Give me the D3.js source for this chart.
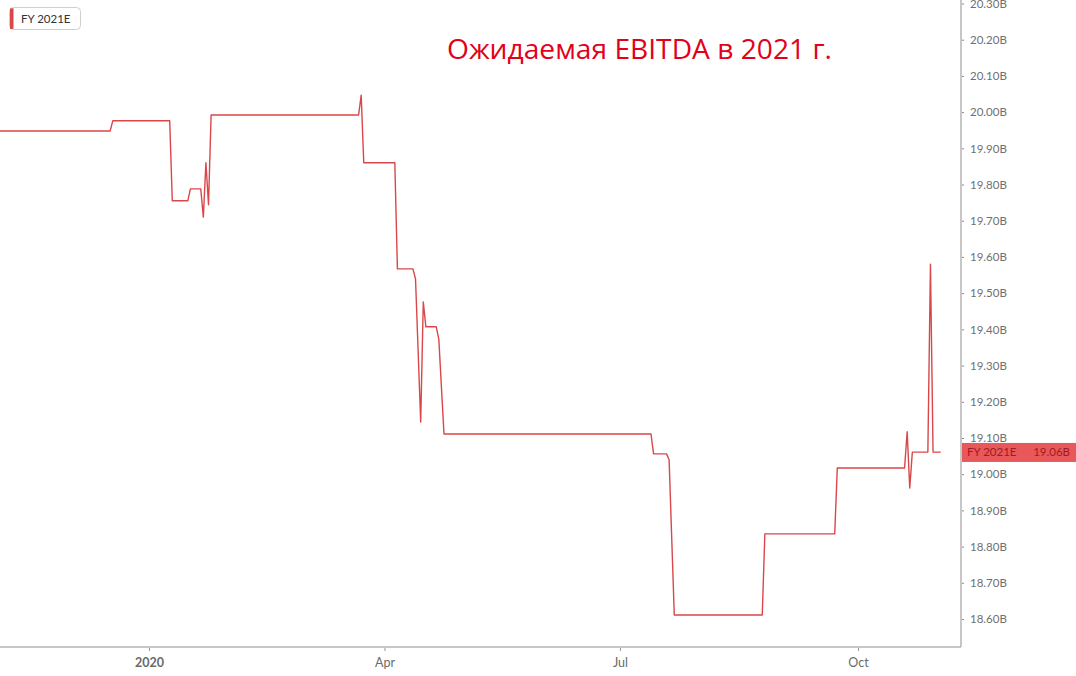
<!DOCTYPE html>
<html>
<head>
<meta charset="utf-8">
<script src="https://cdn.jsdelivr.net/npm/d3@7/dist/d3.min.js"></script>
<style>
  html, body { margin: 0; padding: 0; background: #fff; }
  svg { display: block; }
</style>
</head>
<body>
<svg id="chart" width="1076" height="676"></svg>
<script>
// ---- data ----
const seriesName = "FY 2021E";
const titleText = "Ожидаемая EBITDA в 2021 г.";
const dates = [
  "2019-11-04","2019-12-17","2019-12-18","2020-01-09","2020-01-10","2020-01-16","2020-01-17",
  "2020-01-21","2020-01-22","2020-01-23","2020-01-24","2020-01-25","2020-03-22","2020-03-23",
  "2020-03-24","2020-04-05","2020-04-06","2020-04-12","2020-04-13","2020-04-15","2020-04-16",
  "2020-04-17","2020-04-21","2020-04-22","2020-04-24","2020-07-13","2020-07-14","2020-07-19",
  "2020-07-20","2020-07-22","2020-08-25","2020-08-26","2020-09-22","2020-09-23","2020-10-19",
  "2020-10-20","2020-10-21","2020-10-22","2020-10-28","2020-10-29","2020-10-30","2020-11-02"
];
const values = [
  19.948,19.948,19.976,19.976,19.755,19.755,19.788,
  19.788,19.71,19.86,19.744,19.992,19.992,20.047,
  19.86,19.86,19.567,19.567,19.539,19.144,19.476,
  19.407,19.407,19.373,19.111,19.111,19.056,19.056,
  19.04,18.611,18.611,18.835,18.835,19.017,19.017,
  19.117,18.962,19.061,19.061,19.58,19.061,19.061
];
const yTicks = [18.6,18.7,18.8,18.9,19.0,19.1,19.2,19.3,19.4,19.5,19.6,19.7,19.8,19.9,20.0,20.1,20.2,20.3];
const xTickDates = ["2020-01-01","2020-04-01","2020-07-01","2020-10-01"];
const xTickLabels = ["2020","Apr","Jul","Oct"];
const lastValue = 19.06;

// ---- layout ----
const parse = d3.timeParse("%Y-%m-%d");
const plotRight = 961, plotBottom = 647;
const svg = d3.select("#chart");
const font = "Lato, 'Open Sans', sans-serif";

const x = d3.scaleTime()
  .domain([parse("2020-01-01"), parse("2020-10-01")])
  .range([149, 858]);
const y = d3.scaleLinear().domain([18.6, 20.3]).range([619, 3.5]);

const data = dates.map((d, i) => ({ date: parse(d), value: values[i] }));

// axes lines
svg.append("line").attr("x1", 0).attr("x2", plotRight).attr("y1", plotBottom).attr("y2", plotBottom)
  .attr("stroke", "#b4b4b4").attr("stroke-width", 1.5);
svg.append("line").attr("x1", plotRight).attr("x2", plotRight).attr("y1", 0).attr("y2", plotBottom)
  .attr("stroke", "#b4b4b4").attr("stroke-width", 1.5);

// y axis
const yAxis = d3.axisRight(y).tickValues(yTicks).tickSize(2).tickPadding(6)
  .tickFormat(d => d3.format(".2f")(d) + "B");
const gy = svg.append("g").attr("transform", `translate(${plotRight + 1},0)`).call(yAxis);
gy.select(".domain").remove();
gy.selectAll(".tick line").attr("stroke", "#888");
gy.selectAll(".tick text").attr("fill", "#707070").style("font-family", font).style("font-size", "11.5px");

// x axis
const xAxis = d3.axisBottom(x).tickValues(xTickDates.map(parse)).tickSize(3).tickPadding(7)
  .tickFormat((d, i) => xTickLabels[i]);
const gx = svg.append("g").attr("transform", `translate(0,${plotBottom + 1})`).call(xAxis);
gx.select(".domain").remove();
gx.selectAll(".tick line").attr("stroke", "#999");
gx.selectAll(".tick text").attr("fill", "#6a6a6a").style("font-family", font).style("font-size", "12.5px")
  .style("font-weight", (d, i) => i === 0 ? "bold" : "normal");

// line
const line = d3.line().x(d => x(d.date)).y(d => y(d.value));
svg.append("path").datum(data).attr("d", line)
  .attr("fill", "none").attr("stroke", "#d9474a").attr("stroke-width", 1.4).attr("stroke-linejoin", "round");

// last value label
const ly = y(lastValue);
svg.append("rect").attr("x", plotRight + 1).attr("y", ly - 9.5).attr("width", 1076 - plotRight).attr("height", 19)
  .attr("fill", "#e8585a");
svg.append("text").attr("x", plotRight + 6).attr("y", ly + 4).text(seriesName)
  .attr("fill", "#9e1c1e").style("font-family", font).style("font-size", "11.5px");
svg.append("text").attr("x", 1070).attr("y", ly + 4).attr("text-anchor", "end").text(d3.format(".2f")(lastValue) + "B")
  .attr("fill", "#9e1c1e").style("font-family", font).style("font-size", "11.5px");

// legend
svg.append("rect").attr("x", 9.5).attr("y", 7.5).attr("width", 71).attr("height", 22).attr("rx", 4)
  .attr("fill", "#fff").attr("stroke", "#cfcfcf");
svg.append("path").attr("d", "M13.5,8 A4,4 0 0 0 10,12 L10,25 A4,4 0 0 0 13.5,29 Z").attr("fill", "#d9474a");
svg.append("rect").attr("x", 10).attr("y", 8.5).attr("width", 2.5).attr("height", 20.5).attr("fill", "#d9474a");
svg.append("text").attr("x", 21).attr("y", 23).text(seriesName)
  .attr("fill", "#333").style("font-family", font).style("font-size", "11.5px");

// title
svg.append("text").attr("x", 447).attr("y", 59).text(titleText)
  .attr("fill", "#e2001a").style("font-family", "'Open Sans', sans-serif").style("font-size", "28px")
  .attr("textLength", 385).attr("lengthAdjust", "spacingAndGlyphs");
</script>
</body>
</html>
